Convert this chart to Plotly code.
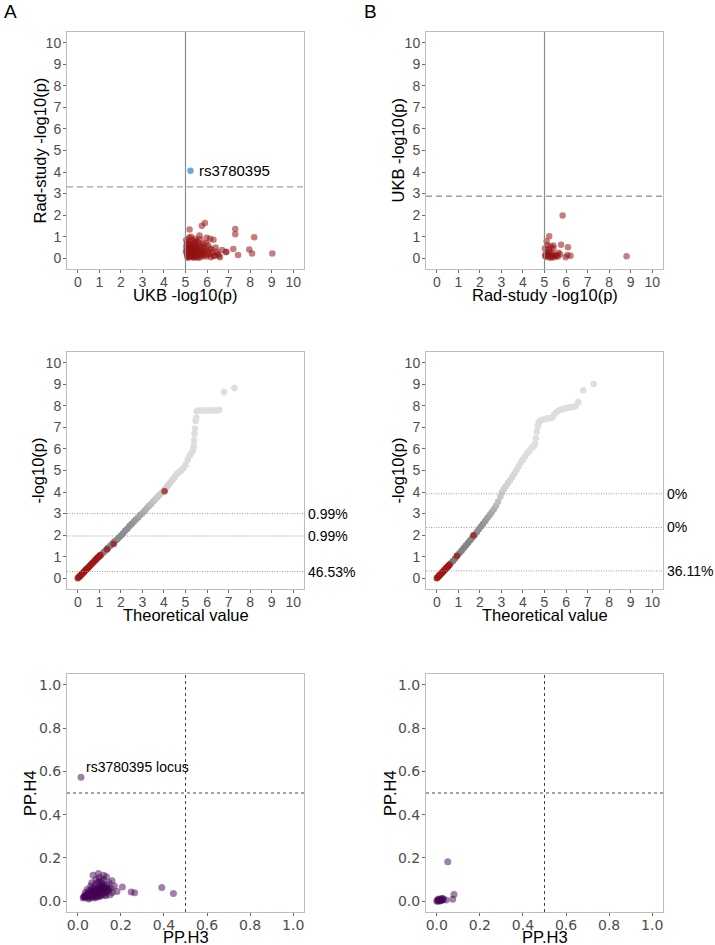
import plotly.graph_objects as go

# ---------------- data ----------------
# Panel A top: UKB -log10(p) vs Rad-study -log10(p)
a_ukb = [5.03,5.05,5.06,5.08,5.10,5.11,5.12,5.14,5.15,5.17,5.18,5.20,5.21,5.19,5.23,5.25,5.26,5.28,5.30,5.31,
         5.33,5.35,5.36,5.38,5.40,5.42,5.44,5.46,5.48,5.50,5.52,5.55,5.57,5.60,5.62,5.65,5.68,5.70,5.72,5.76,
         5.78,5.80,5.82,5.85,5.90,5.92,5.95,5.98,6.02,6.05,6.10,6.14,6.18,6.20,6.25,6.30,6.35,6.40,6.45,6.50,
         6.60,6.70,6.87,6.90,7.22,7.31,7.31,7.44,7.96,8.09,8.19,9.03,5.04,5.07,5.09,5.13,5.16,5.22,5.24,5.27,
         5.32,5.34,5.37,5.41,5.43,5.47,5.53,5.58,5.63,5.66,5.73,5.88,6.00,5.02,5.10,5.20,5.30,5.50,5.60,5.75,
         5.85,6.30,6.55,5.40,5.50,5.25,5.65,5.95,6.15]
a_rad = [0.85,0.62,0.35,0.12,0.02,0.78,0.45,0.25,0.05,0.95,0.55,0.30,0.15,1.33,0.70,0.40,0.08,0.22,0.85,0.50,
         0.12,0.32,0.65,0.03,0.18,0.42,0.90,0.28,0.06,0.60,0.15,0.35,0.75,0.10,0.48,0.25,0.88,0.05,0.55,1.51,
         0.30,0.12,0.68,0.20,1.64,0.42,0.08,0.95,0.30,0.60,0.18,0.90,0.05,0.40,0.25,0.86,0.12,0.50,0.30,0.20,
         0.05,0.38,0.28,0.30,0.43,1.36,1.11,0.15,0.40,0.22,0.97,0.22,0.50,0.20,0.68,0.10,0.38,0.60,0.18,0.48,
         0.28,0.05,0.15,0.72,0.08,0.50,0.25,0.02,0.15,0.62,0.18,0.35,0.15,0.30,0.40,0.10,0.35,0.40,0.30,0.40,
         0.50,0.10,0.12,0.55,0.80,1.00,1.05,0.70,0.45]
a_hit_x = [5.23]
a_hit_y = [4.06]
a_hit_label = "rs3780395"
a_rad_threshold = 3.31
a_ukb_threshold = 5.0

# Panel B top: Rad-study -log10(p) vs UKB -log10(p)
b_rad = [5.84,5.22,5.10,5.77,6.09,5.41,5.41,6.06,6.21,8.81,5.72,5.56,5.98,5.02,5.05,5.08,5.12,5.15,5.18,5.20,
         5.25,5.28,5.30,5.35,5.38,5.45,5.50,5.62,5.03,5.14,5.24,5.33,5.65]
b_ukb = [1.98,1.02,0.79,0.62,0.51,0.59,0.46,0.15,0.12,0.09,0.19,0.12,0.05,0.45,0.20,0.08,0.60,0.30,0.05,0.42,
         0.15,0.55,0.02,0.25,0.10,0.05,0.15,0.08,0.10,0.15,0.25,0.08,0.25]
b_ukb_threshold = 2.88
b_rad_threshold = 5.0

# Panel A middle: QQ plot
qa_gray_x = [1.10,1.20,1.30,1.40,1.50,1.60,1.70,1.80,1.90,2.00,2.10,2.20,2.30,2.40,2.50,2.60,2.70,2.80,2.90,3.00,
             3.10,3.20,3.30,3.40,3.50,3.60,3.70,3.80,3.90,4.00,4.10,4.20,4.30,4.40,4.50,4.60,4.70,4.80,4.90,5.00,
             5.10,5.20,5.30,5.36,5.38,5.40,5.42,5.44,5.47,5.50,5.52,5.60,5.70,5.80,5.90,6.00,6.10,6.20,6.30,6.40,
             6.50,6.57,6.79,7.27]
qa_gray_y = [1.10,1.20,1.30,1.40,1.50,1.60,1.70,1.78,1.88,1.97,2.08,2.20,2.30,2.42,2.52,2.62,2.72,2.82,2.93,3.02,
             3.13,3.24,3.35,3.45,3.56,3.67,3.77,3.87,3.97,4.08,4.20,4.32,4.45,4.57,4.70,4.84,4.93,5.00,5.10,5.25,
             5.50,5.70,5.85,6.00,6.15,6.40,6.70,6.95,7.30,7.45,7.75,7.78,7.78,7.78,7.78,7.78,7.78,7.78,7.78,7.78,
             7.80,7.82,8.64,8.83]
qa_red_x = [0.00,0.03,0.06,0.09,0.12,0.15,0.18,0.21,0.24,0.28,0.31,0.35,0.38,0.42,0.46,0.50,0.54,0.58,0.62,0.66,
            0.70,0.75,0.79,0.83,0.87,0.90,0.94,0.98,1.02,1.05,1.36,1.67,4.03]
qa_red_y = [0.00,0.03,0.06,0.09,0.12,0.15,0.18,0.21,0.24,0.28,0.32,0.36,0.39,0.43,0.47,0.51,0.55,0.60,0.64,0.68,
            0.72,0.77,0.82,0.86,0.90,0.93,0.97,1.00,1.04,1.08,1.34,1.59,4.04]
qa_cut_y = [3.00, 1.96, 0.31]
qa_cut_label = ["0.99%", "0.99%", "46.53%"]

# Panel B middle: QQ plot
qb_gray_x = [0.65,0.75,0.85,0.95,1.05,1.15,1.25,1.35,1.45,1.55,1.65,1.75,1.85,1.95,2.05,2.15,2.25,2.35,2.45,2.55,
             2.65,2.75,2.85,2.95,3.02,3.10,3.20,3.30,3.40,3.50,3.60,3.70,3.80,3.90,4.00,4.10,4.20,4.30,4.40,4.50,
             4.56,4.60,4.64,4.68,4.73,4.80,4.90,5.00,5.10,5.20,5.30,5.38,5.45,5.55,5.65,5.75,5.85,5.95,6.05,6.15,
             6.25,6.35,6.45,6.57,6.80,7.28]
qb_gray_y = [0.70,0.80,0.92,1.05,1.16,1.28,1.40,1.52,1.64,1.76,1.88,2.00,2.13,2.27,2.40,2.53,2.66,2.79,2.92,3.06,
             3.20,3.36,3.55,3.78,3.97,4.12,4.27,4.42,4.55,4.70,4.86,5.02,5.20,5.37,5.50,5.65,5.80,5.92,6.04,6.12,
             6.25,6.50,6.80,7.05,7.22,7.32,7.36,7.38,7.41,7.42,7.44,7.50,7.60,7.70,7.78,7.82,7.85,7.87,7.90,7.92,
             7.94,7.96,8.00,8.18,8.72,9.01]
qb_red_x = [0.00,0.03,0.06,0.09,0.12,0.15,0.18,0.21,0.24,0.27,0.30,0.33,0.36,0.40,0.43,0.47,0.50,0.53,0.56,0.59,0.93,1.70]
qb_red_y = [0.00,0.03,0.06,0.09,0.13,0.16,0.19,0.22,0.25,0.28,0.31,0.35,0.38,0.42,0.46,0.50,0.53,0.56,0.59,0.62,1.03,1.99]
qb_cut_y = [3.92, 2.36, 0.34]
qb_cut_label = ["0%", "0%", "36.11%"]

# Panel A bottom: coloc PP.H3 vs PP.H4
ca_h3 = [0.015,0.390,0.444,0.248,0.264,0.207,0.182,0.159,0.133,0.096,0.071,0.144,0.030,0.035,0.040,0.045,0.050,0.055,
         0.060,0.065,0.070,0.075,0.080,0.085,0.090,0.095,0.100,0.105,0.110,0.115,0.120,0.125,0.130,0.135,0.140,0.060,
         0.070,0.080,0.090,0.100,0.110,0.120,0.040,0.050,0.060,0.065,0.075,0.085,0.095,0.105,0.115,0.125,0.155,0.160,
         0.170,0.145,0.100,0.085,0.065,0.045,0.035,0.025,0.050,0.080,0.100,0.130,0.150,0.120,
         0.028,0.033,0.038,0.043,0.048,0.053,0.058,0.063,0.068,0.073,0.078,0.083,0.088,0.093,0.098,0.103,0.108,0.113,
         0.118,0.123,0.128,0.138,0.055,0.070,0.090,0.110,0.075,0.095,0.115,0.135]
ca_h4 = [0.573,0.063,0.035,0.043,0.039,0.066,0.045,0.094,0.113,0.128,0.120,0.050,0.020,0.025,0.018,0.030,0.022,0.035,
         0.028,0.040,0.030,0.045,0.035,0.050,0.040,0.060,0.045,0.070,0.050,0.080,0.055,0.065,0.040,0.075,0.060,0.070,
         0.060,0.075,0.085,0.095,0.090,0.100,0.030,0.045,0.050,0.020,0.025,0.020,0.030,0.025,0.035,0.030,0.060,0.040,
         0.070,0.085,0.110,0.100,0.085,0.055,0.040,0.015,0.010,0.015,0.020,0.025,0.030,0.120,
         0.022,0.018,0.028,0.024,0.032,0.027,0.036,0.031,0.042,0.036,0.048,0.041,0.052,0.046,0.056,0.050,0.062,0.056,
         0.066,0.060,0.052,0.058,0.015,0.018,0.022,0.028,0.055,0.068,0.072,0.045]
ca_label = "rs3780395 locus"
ca_label_x = 0.03
ca_label_y = 0.62

# Panel B bottom
cb_h3 = [0.051,0.080,0.074,0.043,0.023,0.000,0.005,0.010,0.012,0.015,0.018,0.020,0.008,0.025,0.030,0.003,0.028]
cb_h4 = [0.182,0.031,0.009,0.005,0.012,0.000,0.002,0.005,0.000,0.008,0.003,0.006,0.010,0.004,0.008,0.006,0.012]
pp_cut = 0.5

# --------------- styling ---------------
W, H = 715, 945
RED = "rgba(150,18,18,0.55)"
RED_Q = "rgba(160,22,22,0.75)"
BLUE = "#6aa8de"
PURPLE = "rgba(68,1,84,0.5)"
FONT = "Liberation Sans, Arial, sans-serif"
TICKCOL = "#4d4d4d"
MS = 6.5


def dx(a, b):
    return [a / W, b / W]


def dy(top, bottom):
    return [1 - bottom / H, 1 - top / H]


cols = [dx(67, 304), dx(426, 663)]
rows = [dy(32, 269), dy(352, 589), dy(674, 912)]

fig = go.Figure()

# top row
fig.add_trace(go.Scatter(x=a_ukb, y=a_rad, mode="markers", xaxis="x", yaxis="y",
                         marker=dict(size=MS, color=RED, line=dict(width=0)), showlegend=False))
fig.add_trace(go.Scatter(x=a_hit_x, y=a_hit_y, mode="markers", xaxis="x", yaxis="y",
                         marker=dict(size=MS, color=BLUE, line=dict(width=0)), showlegend=False))
fig.add_trace(go.Scatter(x=b_rad, y=b_ukb, mode="markers", xaxis="x2", yaxis="y2",
                         marker=dict(size=MS, color=RED, line=dict(width=0)), showlegend=False))

GRAYSCALE = [[0, "#7c7c7c"], [0.3, "#929292"], [0.55, "#c8c8c8"], [0.8, "#dadada"], [1, "#dedede"]]
# middle row
fig.add_trace(go.Scatter(x=qa_gray_x, y=qa_gray_y, mode="markers", xaxis="x3", yaxis="y3",
                         marker=dict(size=MS, color=qa_gray_y, colorscale=GRAYSCALE, cmin=1, cmax=6,
                                     line=dict(width=0)), showlegend=False))
fig.add_trace(go.Scatter(x=qa_red_x, y=qa_red_y, mode="markers", xaxis="x3", yaxis="y3",
                         marker=dict(size=MS, color=RED_Q, line=dict(width=0)), showlegend=False))
fig.add_trace(go.Scatter(x=qb_gray_x, y=qb_gray_y, mode="markers", xaxis="x4", yaxis="y4",
                         marker=dict(size=MS, color=qb_gray_y, colorscale=GRAYSCALE, cmin=1, cmax=6,
                                     line=dict(width=0)), showlegend=False))
fig.add_trace(go.Scatter(x=qb_red_x, y=qb_red_y, mode="markers", xaxis="x4", yaxis="y4",
                         marker=dict(size=MS, color=RED_Q, line=dict(width=0)), showlegend=False))

# bottom row
fig.add_trace(go.Scatter(x=ca_h3, y=ca_h4, mode="markers", xaxis="x5", yaxis="y5",
                         marker=dict(size=MS + 0.5, color=PURPLE, line=dict(width=0)), showlegend=False))
fig.add_trace(go.Scatter(x=cb_h3, y=cb_h4, mode="markers", xaxis="x6", yaxis="y6",
                         marker=dict(size=MS + 0.5, color=PURPLE, line=dict(width=0)), showlegend=False))

layout = dict(width=W, height=H, margin=dict(l=0, r=0, t=0, b=0),
              paper_bgcolor="white", plot_bgcolor="white",
              font=dict(family=FONT, color="black"), showlegend=False)

int_ticks = list(range(0, 11))
pp_ticks = [0, 0.2, 0.4, 0.6, 0.8, 1.0]
pp_text = ["0.0", "0.2", "0.4", "0.6", "0.8", "1.0"]

for i in range(6):
    r, c = divmod(i, 2)
    xn = "xaxis" if i == 0 else f"xaxis{i+1}"
    yn = "yaxis" if i == 0 else f"yaxis{i+1}"
    xa = "x" if i == 0 else f"x{i+1}"
    ya = "y" if i == 0 else f"y{i+1}"
    common = dict(showgrid=False, zeroline=False, showline=True, mirror=True,
                  linecolor="#bdbdbd", linewidth=1, ticks="outside", ticklen=3,
                  tickcolor="#6a6a6a", tickwidth=1, fixedrange=True)
    if r < 2:
        tk = dict(tickvals=int_ticks, ticktext=[str(t) for t in int_ticks], range=[-0.5, 10.5],
                  tickfont=dict(size=14, color=TICKCOL, family=FONT))
    else:
        tk = dict(tickvals=pp_ticks, ticktext=pp_text, range=[-0.05, 1.05],
                  tickfont=dict(size=14, color=TICKCOL, family="DejaVu Sans, sans-serif"))
    layout[xn] = dict(domain=cols[c], anchor=ya, ticklabelstandoff=-3, **common, **tk)
    layout[yn] = dict(domain=rows[r], anchor=xa, ticklabelstandoff=-1, **common, **tk)

shapes = []
# top threshold lines
shapes.append(dict(type="line", xref="x", yref="y domain", x0=a_ukb_threshold, x1=a_ukb_threshold, y0=0, y1=1,
                   line=dict(color="#8a8a8a", width=1.2)))
shapes.append(dict(type="line", xref="x domain", yref="y", x0=0, x1=1, y0=a_rad_threshold, y1=a_rad_threshold,
                   line=dict(color="#a0a0a0", width=1.4, dash="6px,4px")))
shapes.append(dict(type="line", xref="x2", yref="y2 domain", x0=b_rad_threshold, x1=b_rad_threshold, y0=0, y1=1,
                   line=dict(color="#8a8a8a", width=1.2)))
shapes.append(dict(type="line", xref="x2 domain", yref="y2", x0=0, x1=1, y0=b_ukb_threshold, y1=b_ukb_threshold,
                   line=dict(color="#a0a0a0", width=1.4, dash="6px,4px")))
# middle dotted cut lines
for v in qa_cut_y:
    shapes.append(dict(type="line", xref="x3 domain", yref="y3", x0=0, x1=1, y0=v, y1=v,
                       line=dict(color="#9a9a9a", width=1, dash="1px,1.5px")))
for v in qb_cut_y:
    shapes.append(dict(type="line", xref="x4 domain", yref="y4", x0=0, x1=1, y0=v, y1=v,
                       line=dict(color="#9a9a9a", width=1, dash="1px,1.5px")))
# bottom dashed lines
for xa, ya in [("x5", "y5"), ("x6", "y6")]:
    shapes.append(dict(type="line", xref=xa, yref=f"{ya} domain", x0=pp_cut, x1=pp_cut, y0=0, y1=1,
                       line=dict(color="#444444", width=1, dash="3px,3px")))
    shapes.append(dict(type="line", xref=f"{xa} domain", yref=ya, x0=0, x1=1, y0=pp_cut, y1=pp_cut,
                       line=dict(color="#444444", width=1, dash="3px,3px")))
layout["shapes"] = shapes

ann = []


def paper_text(text, x, y, size=16, angle=0, xanchor="center", yanchor="middle", family=FONT, color="black"):
    ann.append(dict(text=text, x=x / W, y=1 - y / H, xref="paper", yref="paper", showarrow=False,
                    textangle=angle, xanchor=xanchor, yanchor=yanchor,
                    font=dict(size=size, family=family, color=color)))


# panel letters
paper_text("A", 2, 11, size=19, xanchor="left")
paper_text("B", 362, 11, size=19, xanchor="left")
# axis titles
paper_text("UKB -log10(p)", 185.5, 295, size=16.5)
paper_text("Rad-study -log10(p)", 40, 150.5, size=16.5, angle=-90)
paper_text("Rad-study -log10(p)", 544.5, 295, size=16.5)
paper_text("UKB -log10(p)", 398, 150.5, size=16.5, angle=-90)
paper_text("Theoretical value", 185.5, 615, size=16.5)
paper_text("-log10(p)", 38, 470.5, size=16.5, angle=-90)
paper_text("Theoretical value", 544.5, 615, size=16.5)
paper_text("-log10(p)", 398, 470.5, size=16.5, angle=-90)
paper_text("PP.H3", 185.5, 937, size=16.5)
paper_text("PP.H4", 30, 793, size=16.5, angle=-90)
paper_text("PP.H3", 544.5, 937, size=16.5)
paper_text("PP.H4", 390, 793, size=16.5, angle=-90)

# data labels
ann.append(dict(text=a_hit_label, x=a_hit_x[0] + 0.3, y=a_hit_y[0], xref="x", yref="y", showarrow=False,
                xanchor="left", yanchor="middle", font=dict(size=15, family=FONT, color="black")))
ann.append(dict(text=ca_label, x=ca_label_x, y=ca_label_y, xref="x5", yref="y5", showarrow=False,
                xanchor="left", yanchor="middle", font=dict(size=14, family=FONT, color="black")))
for v, t in zip(qa_cut_y, qa_cut_label):
    ann.append(dict(text=t, x=1.01, y=v, xref="x3 domain", yref="y3", showarrow=False,
                    xanchor="left", yanchor="middle", font=dict(size=14, family=FONT, color="black")))
for v, t in zip(qb_cut_y, qb_cut_label):
    ann.append(dict(text=t, x=1.01, y=v, xref="x4 domain", yref="y4", showarrow=False,
                    xanchor="left", yanchor="middle", font=dict(size=14, family=FONT, color="black")))
layout["annotations"] = ann

fig.update_layout(**layout)
fig.write_html("out.html", config={"displayModeBar": False},
               post_script="document.body.style.margin='0';document.body.style.overflow='hidden';")
